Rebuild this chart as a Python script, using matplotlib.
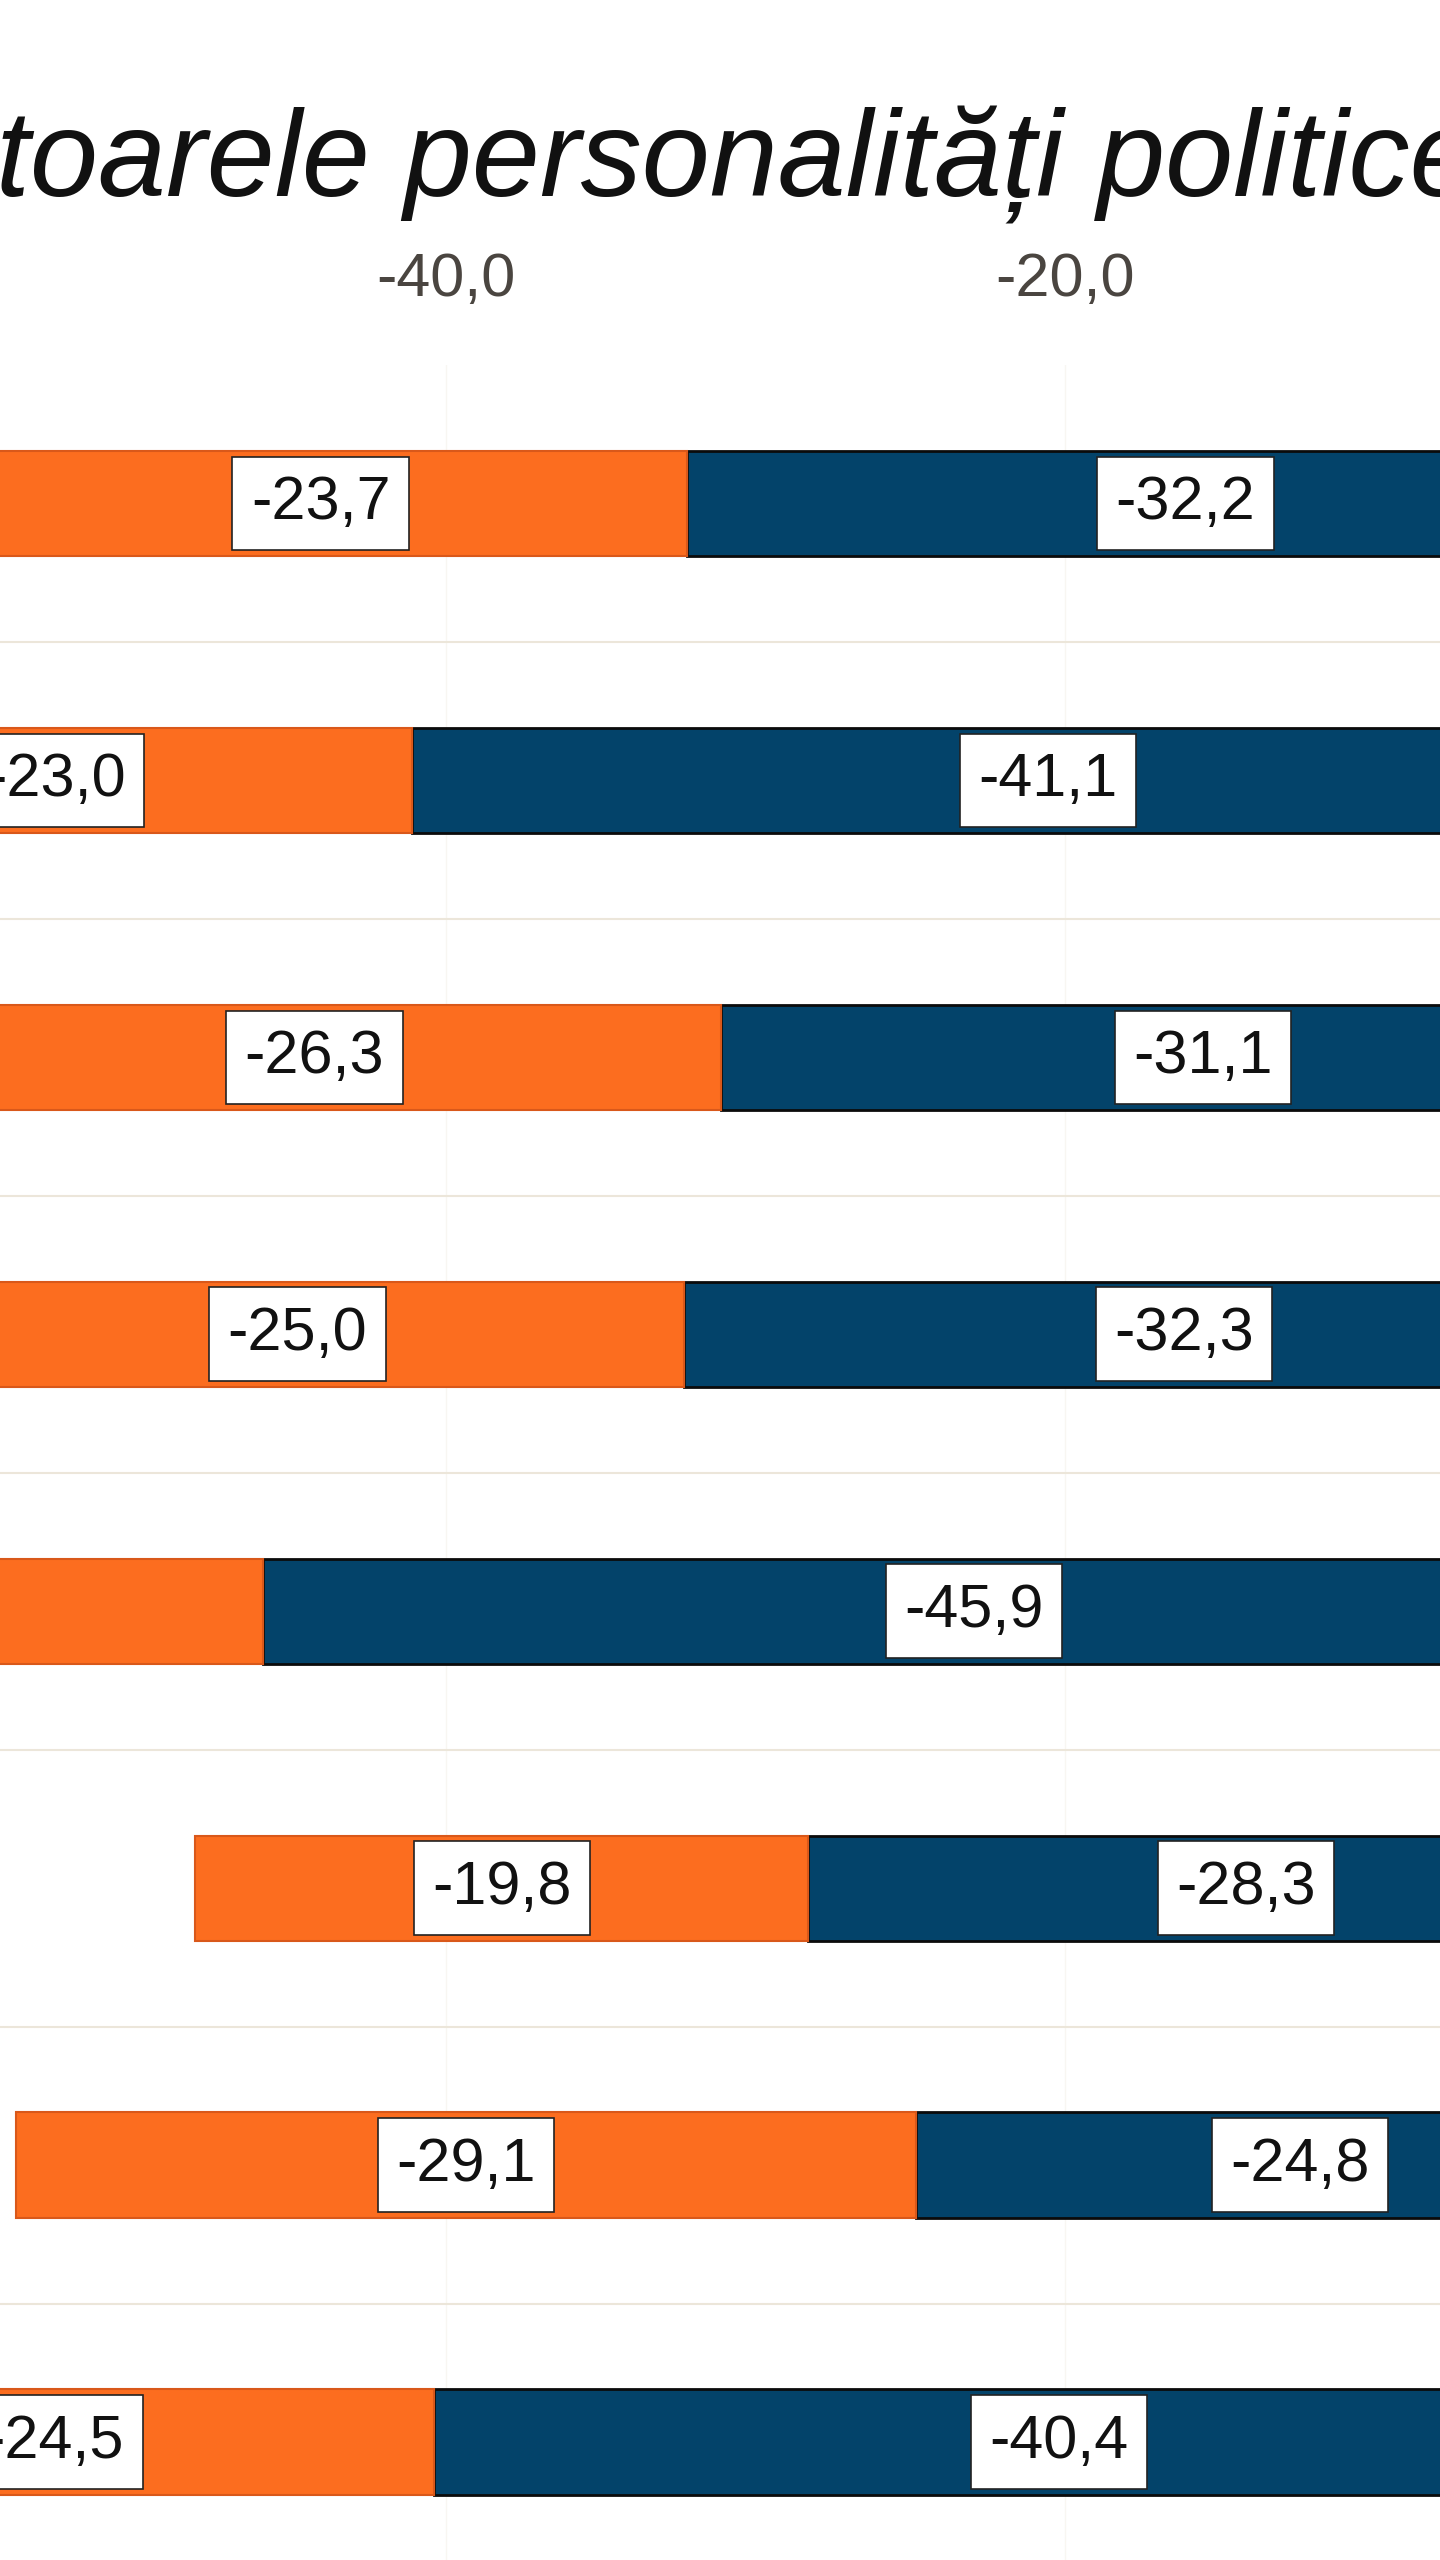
import matplotlib.pyplot as plt
import numpy as np

# values (negative side of a diverging bar chart)
rows = np.arange(8)
blue_vals = [-32.2, -41.1, -31.1, -32.3, -45.9, -28.3, -24.8, -40.4]
orange_vals = [-23.7, -23.0, -26.3, -25.0, -24.0, -19.8, -29.1, -24.5]
tick_vals = [-40, -20]
title_text = "toarele personalități politice"

NAVY = "#03436A"
ORANGE = "#FC6D1F"
FONT = "Liberation Sans"
XMIN, XMAX = -54.41, -7.88


def fmt(v):
    return f"{v:.1f}".replace(".", ",")


fig = plt.figure(figsize=(14.4, 25.6), dpi=100)
fig.patch.set_facecolor("white")

# axes runs from the top separator (px 365) to the bottom edge of the crop
ax = fig.add_axes([0, 0, 1, 1 - 365 / 2560])
ax.set_xlim(XMIN, XMAX)
ax.set_ylim(7.426, -0.5)

bar_h = 0.38
ax.barh(rows, blue_vals, height=bar_h, color=NAVY, edgecolor="#0b0b0b", linewidth=2, zorder=3)
ax.barh(rows, orange_vals, left=blue_vals, height=bar_h, color=ORANGE,
        edgecolor="#d9581a", linewidth=1.5, zorder=3)

# separators between the rows
for y in rows[:-1] + 0.5:
    ax.axhline(y, color="#ece6da", linewidth=1.5, zorder=1)
for x in tick_vals:
    ax.axvline(x, color="#f8f6f2", linewidth=1, zorder=0)

box = dict(boxstyle="square,pad=0.3", facecolor="white", edgecolor="#222222", linewidth=1.2)
for i in rows:
    b = blue_vals[i]
    o = orange_vals[i]
    for xc, v in [(b / 2, b), (b + o / 2, o)]:
        # labels whose centre falls outside the crop are not visible in the picture
        if xc < XMIN - 1.5:
            continue
        ax.text(xc, i, fmt(v), ha="center", va="center", fontsize=44, family=FONT,
                color="#111111", bbox=box, zorder=5, clip_on=True)

ax.xaxis.tick_top()
ax.set_xticks(tick_vals)
ax.set_xticklabels([fmt(t) for t in tick_vals], fontsize=44, family=FONT, color="#4a4540")
ax.tick_params(axis="x", length=0, pad=40)
ax.set_yticks([])
for s in ax.spines.values():
    s.set_visible(False)

fig.text(-0.003, 1 - 196 / 2560, title_text, ha="left", va="baseline", fontsize=88,
         family=FONT, style="italic", color="#111111")

fig.savefig("out.png", dpi=100, facecolor="white")
